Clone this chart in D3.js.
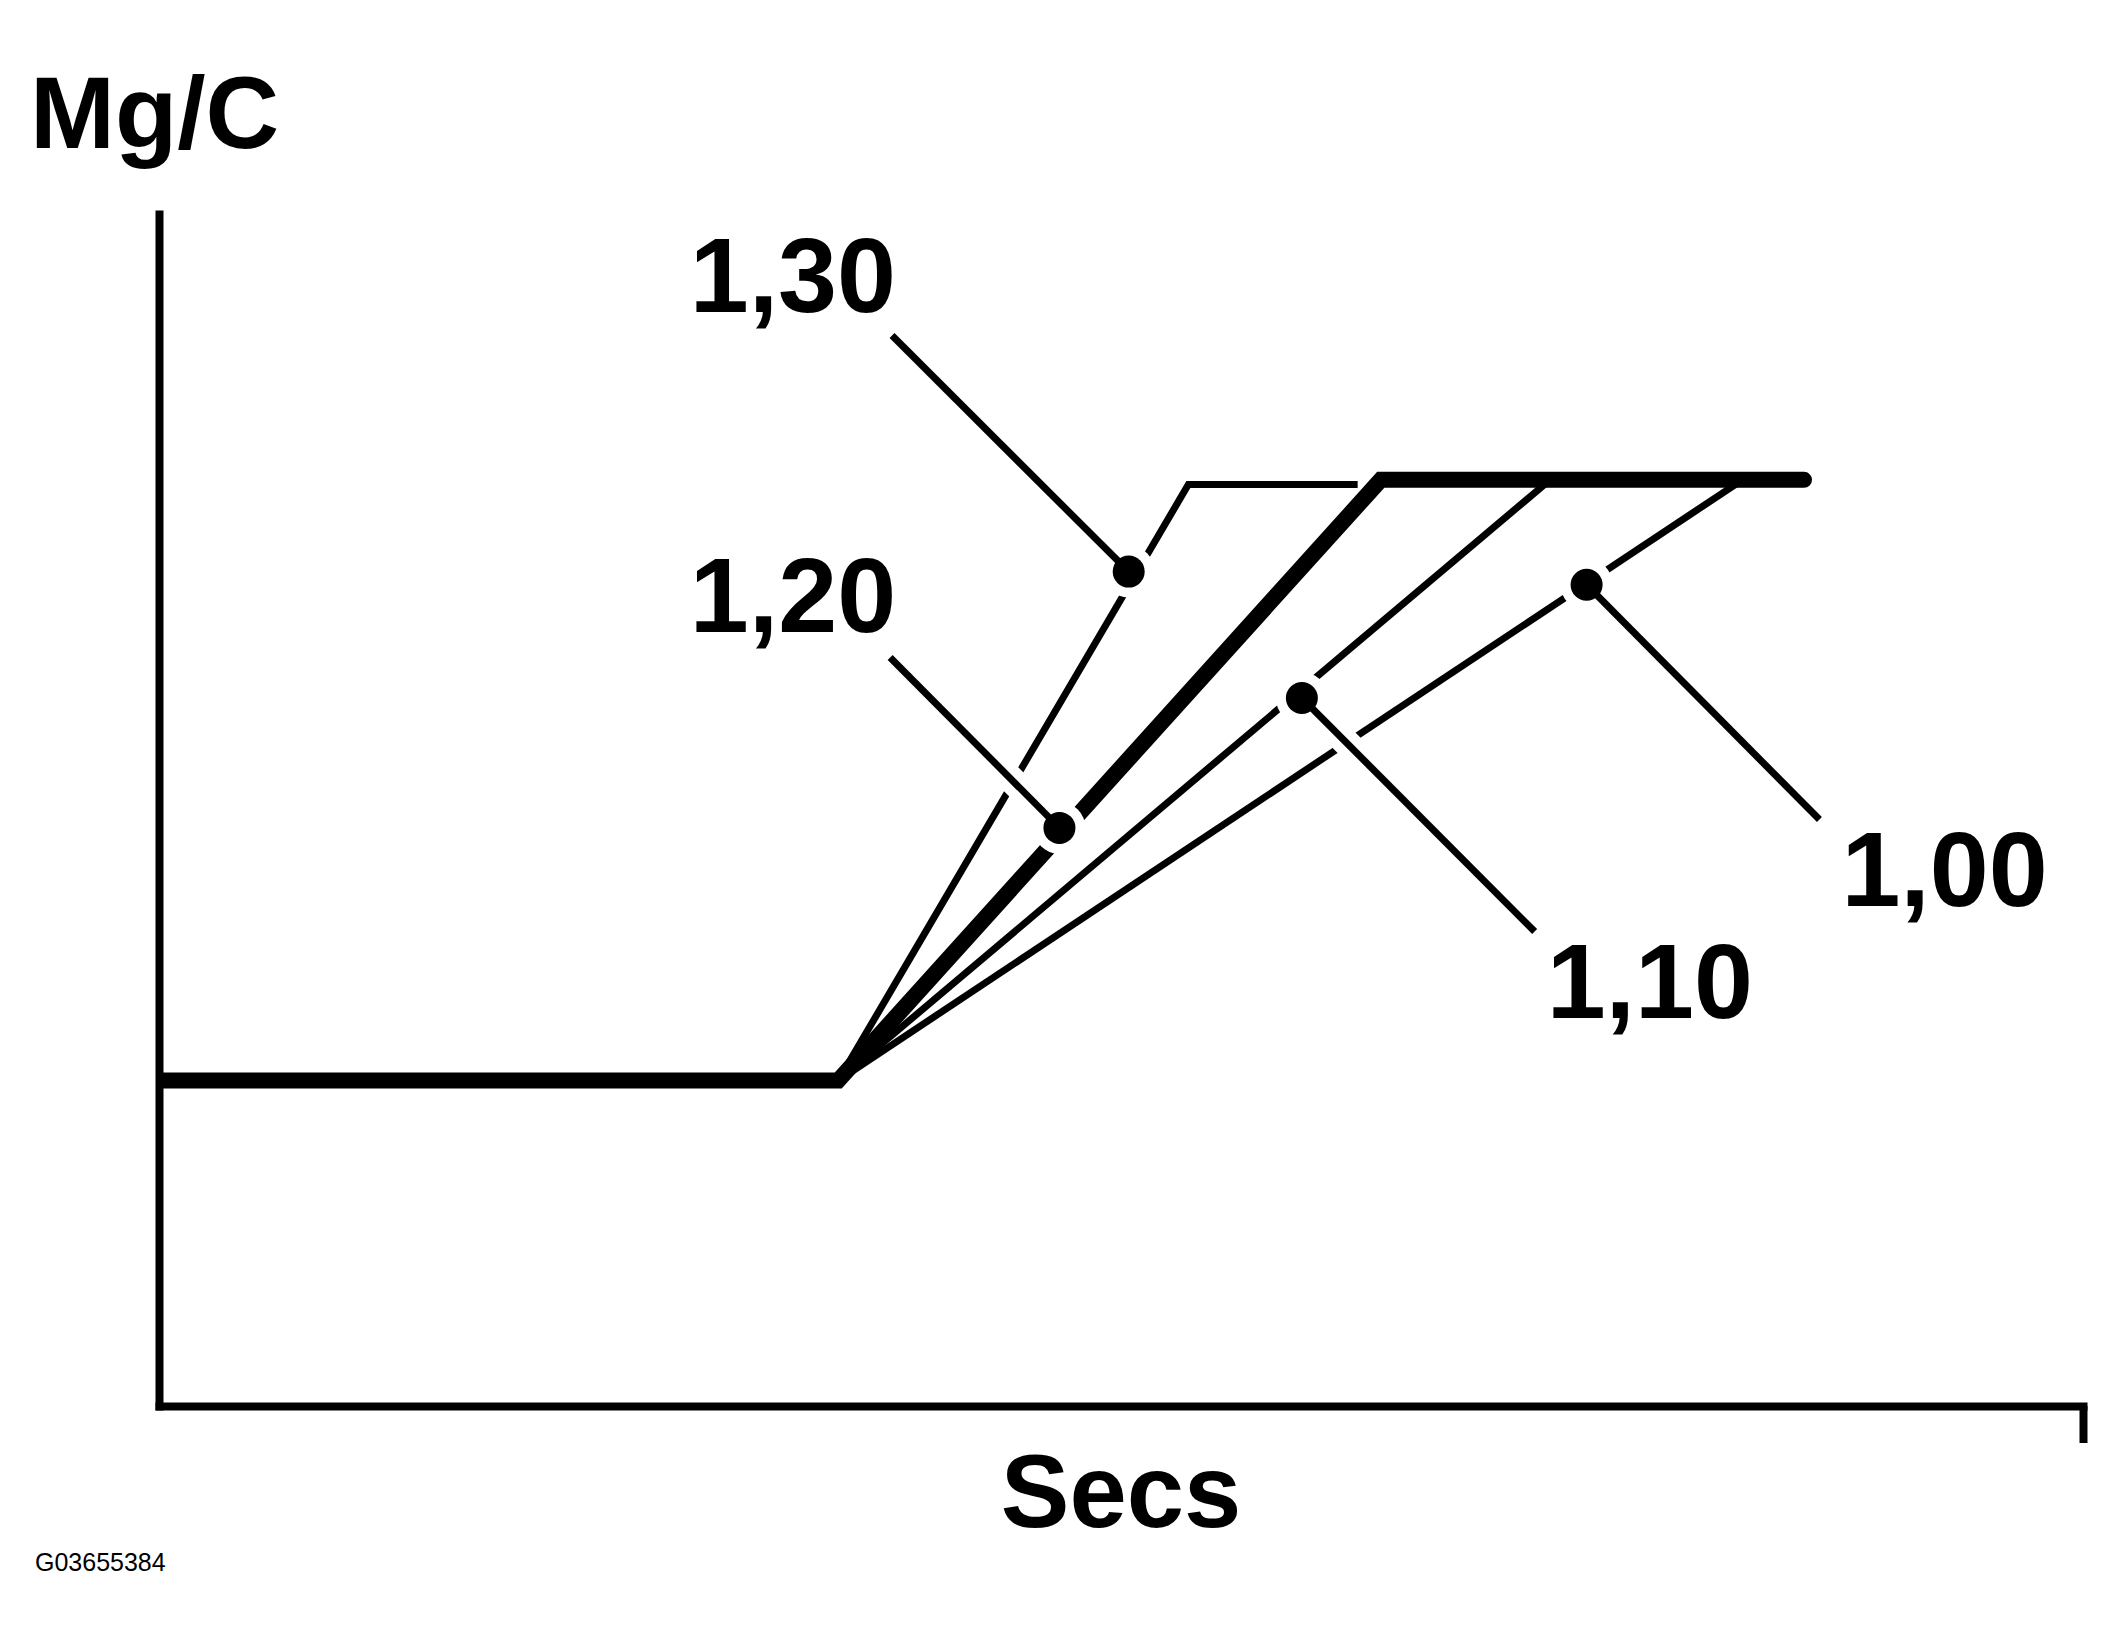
<!DOCTYPE html>
<html>
<head>
<meta charset="utf-8">
<script src="https://cdn.jsdelivr.net/npm/d3@7"></script>
<style>
  body { margin: 0; background: #fff; }
  svg { display: block; background: #fff; }
  text { font-family: "Liberation Sans", Arial, sans-serif; fill: #000; }
</style>
</head>
<body>
<svg id="chart"></svg>
<script>
// ratio labels of the four curves
const ratioLabels = ["1,30", "1,20", "1,10", "1,00"];

// curves (Secs / Mg/C)
const secs130 = [3.53, 5.35, 6.23];
const mgc130  = [2.73, 7.73, 7.73];
const secs120 = [0, 3.53, 6.35, 8.55];
const mgc120  = [2.73, 2.73, 7.77, 7.77];
const secs110 = [3.53, 7.23];
const mgc110  = [2.73, 7.77];
const secs100 = [3.53, 8.23];
const mgc100  = [2.73, 7.77];

// marker dots on each curve and the other end of their leader lines
const dotSecs    = [5.04, 4.68, 5.94, 7.42];
const dotMgc     = [7.00, 4.85, 5.94, 6.89];
const leaderSecs = [3.81, 3.80, 7.15, 8.63];
const leaderMgc  = [8.98, 6.28, 3.98, 4.92];

// axis end tick
const xTicks = [10];

class RatioChart {
  constructor(_config) {
    this.config = {
      parentElement: _config.parentElement,
      containerWidth: 2124,
      containerHeight: 1647,
      x0: 159, x1: 2083,
      y0: 1406, y1: 214
    };
    this.initVis();
  }

  initVis() {
    let vis = this;
    const c = vis.config;

    vis.svg = d3.select(c.parentElement)
      .attr('width', c.containerWidth)
      .attr('height', c.containerHeight);

    vis.xScale = d3.scaleLinear().domain([0, 10]).range([c.x0, c.x1]);
    vis.yScale = d3.scaleLinear().domain([0, 10]).range([c.y0, c.y1]);

    // clip so the thick curve starts flush on the y axis
    vis.svg.append('defs').append('clipPath')
      .attr('id', 'plot-clip')
      .append('rect')
      .attr('x', c.x0).attr('y', 0)
      .attr('width', c.containerWidth - c.x0)
      .attr('height', c.containerHeight);

    // axes: no labels, only the closing tick on the right
    vis.xAxis = d3.axisBottom(vis.xScale)
      .tickValues(xTicks)
      .tickSize(37)
      .tickSizeOuter(0)
      .tickFormat('');
    vis.yAxis = d3.axisLeft(vis.yScale)
      .tickValues([])
      .tickSizeOuter(0);

    const xg = vis.svg.append('g')
      .attr('transform', `translate(0, ${c.y0})`)
      .call(vis.xAxis);
    const yg = vis.svg.append('g')
      .attr('transform', `translate(${c.x0}, 0)`)
      .call(vis.yAxis);
    [xg, yg].forEach(g => {
      g.select('.domain').attr('stroke', '#000').attr('stroke-width', 8).attr('stroke-linecap', 'square');
      g.selectAll('.tick line').attr('stroke', '#000').attr('stroke-width', 8);
    });

    vis.svg.append('text')
      .attr('x', 30).attr('y', 148)
      .attr('font-size', 102).attr('font-weight', 'bold')
      .text('Mg/C');

    vis.svg.append('text')
      .attr('x', (c.x0 + c.x1) / 2).attr('y', 1527)
      .attr('text-anchor', 'middle')
      .attr('font-size', 103).attr('font-weight', 'bold')
      .text('Secs');

    vis.svg.append('text')
      .attr('x', 35).attr('y', 1571)
      .attr('font-size', 25)
      .text('G03655384');

    vis.updateVis();
  }

  updateVis() {
    let vis = this;
    const x = vis.xScale, y = vis.yScale;

    const line = d3.line().x(d => x(d[0])).y(d => y(d[1]));
    const zip = (a, b) => a.map((v, i) => [v, b[i]]);

    const curves = [
      {pts: zip(secs130, mgc130), w: 7,  cap: 'butt'},
      {pts: zip(secs110, mgc110), w: 7,  cap: 'butt'},
      {pts: zip(secs100, mgc100), w: 7,  cap: 'butt'},
      {pts: zip(secs120, mgc120), w: 16, cap: 'round'}
    ];

    vis.svg.append('g')
      .attr('clip-path', 'url(#plot-clip)')
      .selectAll('path')
      .data(curves)
      .join('path')
      .attr('d', d => line(d.pts))
      .attr('fill', 'none')
      .attr('stroke', '#000')
      .attr('stroke-width', d => d.w)
      .attr('stroke-linejoin', 'miter')
      .attr('stroke-linecap', d => d.cap);

    // callouts: leader line + dot, with a white halo that breaks the curves
    const callouts = ratioLabels.map((lab, i) => ({
      label: lab,
      dx: dotSecs[i], dy: dotMgc[i],
      lx: leaderSecs[i], ly: leaderMgc[i]
    }));

    const halo = vis.svg.append('g');
    halo.selectAll('line')
      .data(callouts)
      .join('line')
      .attr('x1', d => x(d.lx)).attr('y1', d => y(d.ly))
      .attr('x2', d => x(d.dx)).attr('y2', d => y(d.dy))
      .attr('stroke', '#fff').attr('stroke-width', 27);
    halo.selectAll('circle')
      .data(callouts)
      .join('circle')
      .attr('cx', d => x(d.dx)).attr('cy', d => y(d.dy))
      .attr('r', 26).attr('fill', '#fff');

    const marks = vis.svg.append('g');
    marks.selectAll('line')
      .data(callouts)
      .join('line')
      .attr('x1', d => x(d.lx)).attr('y1', d => y(d.ly))
      .attr('x2', d => x(d.dx)).attr('y2', d => y(d.dy))
      .attr('stroke', '#000').attr('stroke-width', 7);
    marks.selectAll('circle')
      .data(callouts)
      .join('circle')
      .attr('cx', d => x(d.dx)).attr('cy', d => y(d.dy))
      .attr('r', 16).attr('fill', '#000');

    // label placement relative to the free end of each leader
    const labelPos = [
      {ox: 4,  oy: -24, anchor: 'end'},
      {ox: 6,  oy: -25, anchor: 'end'},
      {ox: 12, oy: 86,  anchor: 'start'},
      {ox: 22, oy: 86,  anchor: 'start'}
    ];

    vis.svg.append('g').selectAll('text')
      .data(callouts)
      .join('text')
      .attr('x', (d, i) => x(d.lx) + labelPos[i].ox)
      .attr('y', (d, i) => y(d.ly) + labelPos[i].oy)
      .attr('text-anchor', (d, i) => labelPos[i].anchor)
      .attr('font-size', 106)
      .attr('font-weight', 'bold')
      .text(d => d.label);
  }
}

new RatioChart({parentElement: '#chart'});
</script>
</body>
</html>
